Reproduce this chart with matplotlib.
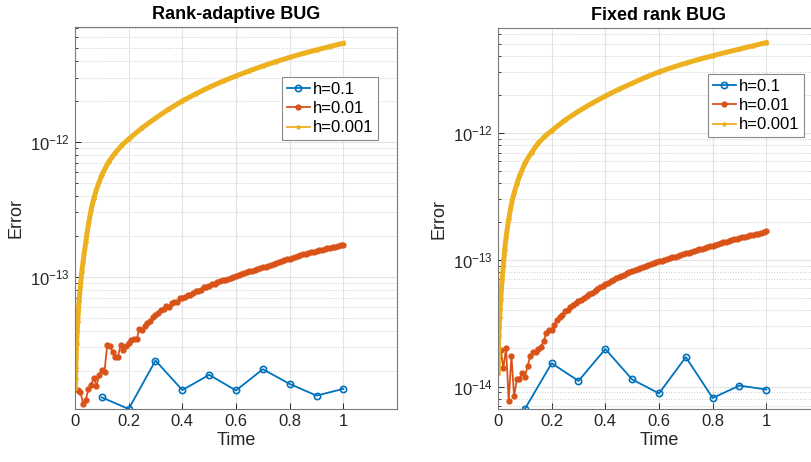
import matplotlib
matplotlib.use('Agg')
import matplotlib.pyplot as plt
import matplotlib.ticker as mticker
import numpy as np

plt.rcParams['font.family'] = ['Liberation Sans', 'DejaVu Sans']
plt.rcParams['mathtext.default'] = 'regular'

# h=0.1 (blue), error values in units of 1e-14
t_blue = [0.1, 0.2, 0.3, 0.4, 0.5, 0.6, 0.7, 0.8, 0.9, 1.0]
blue_adapt = [1.28, 1.05, 2.40, 1.45, 1.88, 1.44, 2.07, 1.61, 1.32, 1.48]
blue_fixed = [0.667, 1.53, 1.11, 1.98, 1.14, 0.885, 1.71, 0.815, 1.02, 0.95]

# h=0.01 (red), t = 0.01 ... 1.00, units of 1e-14
red_adapt = [
    1.46, 1.41, 1.15, 1.23, 1.47, 1.59, 1.78, 1.56, 1.88, 2.05,
    1.99, 3.13, 3.05, 2.80, 2.57, 2.57, 3.13, 2.88, 3.05, 3.26,
    3.41, 3.45, 3.47, 4.10, 4.05, 4.29, 4.54, 4.74, 5.08, 5.25,
    5.38, 5.70, 5.80, 6.05, 5.95, 6.40, 6.55, 6.50, 6.95, 7.00,
    7.10, 7.35, 7.40, 7.55, 7.90, 7.85, 8.05, 8.40, 8.40, 8.50,
    8.80, 8.85, 9.15, 9.25, 9.45, 9.55, 9.70, 9.85, 10.00, 10.10,
    10.30, 10.55, 10.65, 10.80, 11.00, 11.10, 11.25, 11.40, 11.55, 11.75,
    11.90, 12.10, 12.25, 12.45, 12.65, 12.90, 13.10, 13.30, 13.50, 13.65,
    13.85, 14.05, 14.30, 14.55, 14.75, 14.90, 15.10, 15.25, 15.40, 15.60,
    15.80, 15.95, 16.10, 16.25, 16.40, 16.55, 16.75, 16.90, 17.10, 17.30,
]
red_fixed = [
    1.95, 1.40, 2.02, 0.77, 1.75, 0.84, 1.14, 1.14, 1.28, 1.19,
    1.45, 1.73, 1.86, 1.89, 1.98, 2.07, 2.27, 2.65, 2.81, 2.81,
    3.08, 3.33, 3.54, 3.69, 3.92, 4.05, 4.25, 4.40, 4.56, 4.70,
    4.85, 5.00, 5.20, 5.35, 5.50, 5.70, 5.90, 6.10, 6.25, 6.40,
    6.55, 6.75, 6.95, 7.15, 7.35, 7.50, 7.65, 7.85, 8.00, 8.15,
    8.30, 8.50, 8.65, 8.80, 8.95, 9.10, 9.25, 9.40, 9.55, 9.70,
    9.85, 10.00, 10.15, 10.30, 10.45, 10.60, 10.75, 10.95, 11.10, 11.25,
    11.40, 11.55, 11.70, 11.90, 12.10, 12.25, 12.45, 12.60, 12.80, 12.95,
    13.15, 13.35, 13.50, 13.70, 13.90, 14.05, 14.25, 14.45, 14.65, 14.85,
    15.00, 15.20, 15.35, 15.55, 15.75, 15.90, 16.10, 16.30, 16.50, 16.70,
]
t_red = [round(0.01 * (i + 1), 2) for i in range(len(red_adapt))]

# h=0.001 (yellow), read at selected times, units of 1e-12
t_yellow = [0.001, 0.002, 0.003, 0.004, 0.006, 0.008, 0.010, 0.0125, 0.015,
            0.020, 0.025, 0.030, 0.040, 0.050, 0.060, 0.070, 0.080, 0.100,
            0.125, 0.150, 0.175, 0.200, 0.250, 0.300, 0.350, 0.400, 0.450,
            0.500, 0.550, 0.600, 0.650, 0.700, 0.750, 0.800, 0.850, 0.900,
            0.950, 1.000]
yellow_adapt = [0.0150, 0.0175, 0.0210, 0.0250, 0.0320, 0.0390, 0.0460, 0.0560,
                0.0660, 0.0850, 0.1080, 0.1300, 0.1800, 0.2450, 0.3150, 0.3800,
                0.4450, 0.5700, 0.7100, 0.8300, 0.9450, 1.0500, 1.2700, 1.5000,
                1.7500, 2.0100, 2.2700, 2.5400, 2.8100, 3.0800, 3.3600, 3.6500,
                3.9400, 4.2300, 4.5200, 4.8000, 5.0900, 5.3800]
yellow_fixed = [0.0128, 0.0200, 0.0250, 0.0290, 0.0350, 0.0410, 0.0480, 0.0580,
                0.0690, 0.0900, 0.1200, 0.1500, 0.2100, 0.2750, 0.3350, 0.3950,
                0.4550, 0.5750, 0.7000, 0.8300, 0.9400, 1.0400, 1.2600, 1.4800,
                1.7100, 1.9500, 2.2000, 2.4600, 2.7400, 3.0200, 3.2800, 3.5400,
                3.8000, 4.0500, 4.3100, 4.5700, 4.8500, 5.1400]

titles = ['Rank-adaptive BUG', 'Fixed rank BUG']
labels = ['h=0.1', 'h=0.01', 'h=0.001']
ylims = [(1.05e-14, 7.1e-12), (6.67e-15, 6.7e-12)]
yticks = [[1e-13, 1e-12], [1e-14, 1e-13, 1e-12]]
c_blue, c_red, c_yellow = '#0072BD', '#D95319', '#EDB120'

fig = plt.figure(figsize=(8.12, 4.62), dpi=100)
ax_l = fig.add_axes([75/812, 1 - 409/462, 322/812, 382/462])
ax_r = fig.add_axes([498/812, 1 - 409/462, 322/812, 381/462])

panels = [
    (ax_l, blue_adapt, red_adapt, yellow_adapt, (0.941, 0.869)),
    (ax_r, blue_fixed, red_fixed, yellow_fixed, (0.950, 0.879)),
]

for i, (ax, b, r, y, leg_anchor) in enumerate(panels):
    ax.plot(t_blue, np.array(b) * 1e-14, color=c_blue, lw=1.3, marker='o',
            ms=4.5, mfc='none', mew=1.2, label=labels[0])
    ax.plot(t_red, np.array(r) * 1e-14, color=c_red, lw=1.3, marker='.',
            ms=7, label=labels[1])
    ax.plot(t_yellow, np.array(y) * 1e-12, color=c_yellow, lw=3.6,
            marker='*', ms=3, label=labels[2])

    ax.set_yscale('log')
    ax.set_xlim(0, 1.2)
    ax.set_ylim(*ylims[i])
    ax.set_xticks([0, 0.2, 0.4, 0.6, 0.8, 1.0])
    ax.set_xticklabels(['0', '0.2', '0.4', '0.6', '0.8', '1'])
    ax.yaxis.set_major_locator(mticker.FixedLocator(yticks[i]))
    ax.yaxis.set_major_formatter(mticker.LogFormatterSciNotation())
    ax.yaxis.set_minor_locator(mticker.LogLocator(base=10, subs=np.arange(2, 10)))
    ax.yaxis.set_minor_formatter(mticker.NullFormatter())

    ax.grid(True, which='major', color='#e3e3e3', lw=0.8, ls='-')
    ax.grid(True, which='minor', axis='y', color='#cfcfcf', lw=0.7, ls=':')
    ax.set_axisbelow(True)

    ax.tick_params(which='both', direction='in', colors='#262626',
                   labelsize=12, top=False, right=False)
    ax.tick_params(which='major', length=4, width=0.7)
    ax.tick_params(which='minor', length=2, width=0.6)
    for s in ax.spines.values():
        s.set_color('#7a7a7a')
        s.set_linewidth(0.8)

    ax.set_title(titles[i], fontsize=13, fontweight='bold', pad=6)
    ax.set_xlabel('Time', fontsize=13, color='#262626', labelpad=2)
    ax.set_ylabel('Error', fontsize=13, color='#262626', labelpad=4)

    leg = ax.legend(loc='upper right', bbox_to_anchor=leg_anchor, fontsize=12,
                    fancybox=False, framealpha=1, edgecolor='#8a8a8a',
                    handlelength=1.4, handletextpad=0.15, labelspacing=0.25,
                    borderpad=0.3, borderaxespad=0)
    leg.get_frame().set_linewidth(0.8)
    leg.legend_handles[2].set_linewidth(1.3)

fig.savefig('out.png', dpi=100)
